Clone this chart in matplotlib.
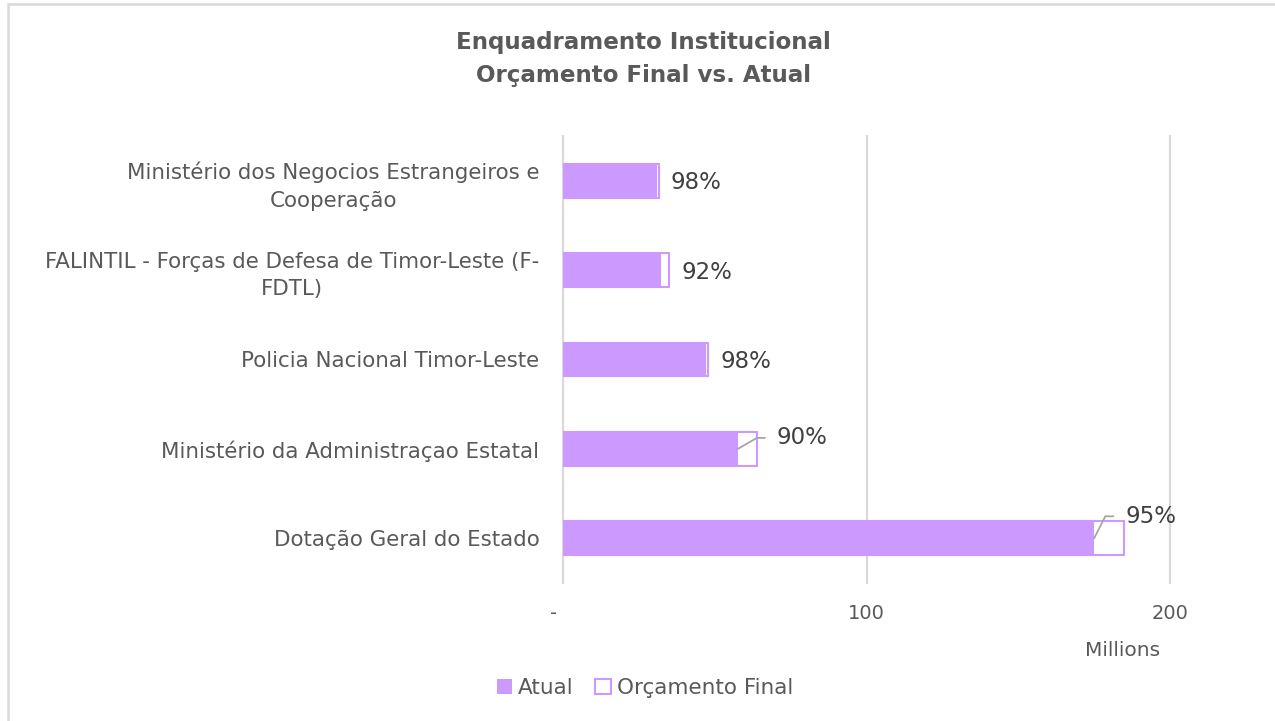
import matplotlib
matplotlib.use("Agg")
import matplotlib.pyplot as plt
from matplotlib.patches import Patch, Rectangle

categories = [
    "Ministério dos Negocios Estrangeiros e\nCooperação",
    "FALINTIL - Forças de Defesa de Timor-Leste (F-\nFDTL)",
    "Policia Nacional Timor-Leste",
    "Ministério da Administraçao Estatal",
    "Dotação Geral do Estado",
]
orcamento_final = [31.6, 35.0, 47.9, 64.0, 184.8]   # millions
atual = [31.0, 32.2, 47.1, 57.6, 175.0]             # millions
x_ticks = [0, 100, 200]
x_tick_labels = ["-   ", "100", "200"]

PURPLE = "#CC99FF"
GRID = "#D9D9D9"
TXT = "#595959"
DARK = "#404040"
FONT = "DejaVu Sans"

fig = plt.figure(figsize=(12.75, 7.21), dpi=100)
fig.patch.set_facecolor("white")

# outer chart border (top and left visible)
fig.patches.append(Rectangle((8 / 1275, -0.05), 1.2, 1 - 4 / 721 + 0.05,
                             transform=fig.transFigure, fill=False,
                             edgecolor=GRID, linewidth=1.8))

ax = fig.add_axes([563 / 1275, 1 - 583 / 721, (1170 - 563) / 1275, (583 - 136) / 721])
n = len(categories)
ypos = list(range(n))
bh = 0.38

ax.barh(ypos, orcamento_final, height=bh, color="white", edgecolor=PURPLE,
        linewidth=1.5, zorder=2, label="Orçamento Final")
ax.barh(ypos, atual, height=bh, color=PURPLE, edgecolor="none",
        zorder=3, label="Atual")

ax.set_xlim(0, 200)
ax.set_ylim(n - 0.5, -0.5)
ax.set_yticks(ypos)
ax.set_yticklabels(categories, fontsize=15.4, color=TXT, family=FONT,
                   multialignment="center", linespacing=1.45)
ax.set_xticks(x_ticks)
ax.set_xticklabels(x_tick_labels, fontsize=14, color=TXT, family=FONT)
ax.tick_params(axis="both", length=0)
ax.tick_params(axis="y", pad=17)
ax.tick_params(axis="x", pad=15)
for s in ax.spines.values():
    s.set_visible(False)
ax.grid(axis="x", color=GRID, linewidth=1.5, zorder=0)
ax.set_axisbelow(True)
for xt in x_ticks:
    ax.axvline(xt, color=GRID, linewidth=1.5, zorder=0.5, clip_on=False)

# data labels (leader lines for the last two)
leader = {3: (39, 11, 30), 4: (31, 22, 63)}
for i in range(n):
    pct = f"{round(atual[i] / orcamento_final[i] * 100):.0f}%"
    if i in leader:
        dx, dy, ang = leader[i]
        ax.annotate(pct, xy=(atual[i], i), xycoords="data",
                    xytext=(dx, dy), textcoords="offset pixels",
                    ha="left", va="center", fontsize=16.5, color=DARK, family=FONT,
                    arrowprops=dict(arrowstyle="-", color="#A6A6A6", lw=1.3,
                                    shrinkA=6.5, shrinkB=0, relpos=(0, 0.5),
                                    connectionstyle=f"angle,angleA=0,angleB={ang},rad=0"),
                    zorder=5)
    else:
        ax.annotate(pct, xy=(orcamento_final[i], i), xycoords="data",
                    xytext=(12, -2), textcoords="offset pixels",
                    ha="left", va="center", fontsize=16.5, color=DARK, family=FONT,
                    zorder=5)

fig.text(1123 / 1275, 1 - 651 / 721, "Millions", ha="center", va="center",
         fontsize=14.5, color=TXT, family=FONT)

fig.text(643 / 1275, 1 - 59 / 721, "Enquadramento Institucional\nOrçamento Final vs. Atual",
         ha="center", va="center", fontsize=16.6, fontweight="bold", color=TXT,
         family=FONT, linespacing=1.55)

handles = [Patch(facecolor=PURPLE, edgecolor="none", label="Atual"),
           Patch(facecolor="white", edgecolor=PURPLE, linewidth=1.5, label="Orçamento Final")]
leg = fig.legend(handles=handles, loc="center", bbox_to_anchor=(645 / 1275, 1 - 688 / 721),
                 ncol=2, frameon=False, fontsize=15.5, handlelength=0.7, handleheight=0.7,
                 handletextpad=0.3, columnspacing=1.0)
for t in leg.get_texts():
    t.set_color(TXT)
    t.set_family(FONT)

fig.savefig("out.png", dpi=100, facecolor="white")
